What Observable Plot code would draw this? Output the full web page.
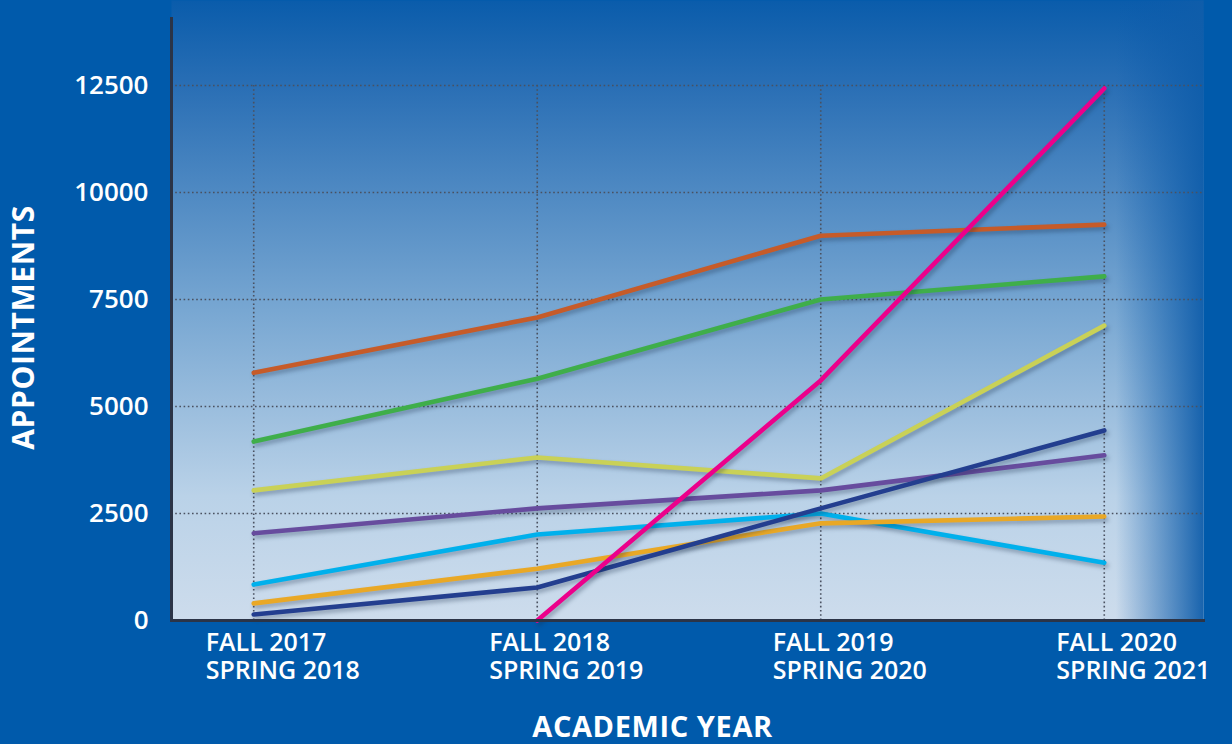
<!DOCTYPE html>
<html>
<head>
<meta charset="utf-8">
<script src="https://cdn.jsdelivr.net/npm/d3@7"></script>
<script src="https://cdn.jsdelivr.net/npm/@observablehq/plot@0.6"></script>
<style>
  html, body { margin: 0; padding: 0; background: #005aab; }
  #chart { width: 1232px; height: 744px; background: #005aab; overflow: hidden; }
  #chart svg { background: transparent; }
  #chart g[aria-label="line"] path { filter: drop-shadow(2px 3px 2px rgba(20,40,70,0.35)); }
  #chart .axis-title text { letter-spacing: 0.6px; }
</style>
</head>
<body>
<div id="chart"></div>
<script>
// ---- data ----
const years = ["FALL 2017\nSPRING 2018", "FALL 2018\nSPRING 2019", "FALL 2019\nSPRING 2020", "FALL 2020\nSPRING 2021"];
const yTicks = [0, 2500, 5000, 7500, 10000, 12500];

const seriesOrange  = [5790, 7080, 8990, 9250];
const seriesGreen   = [4180, 5650, 7500, 8040];
const seriesYellow  = [3040, 3810, 3320, 6890];
const seriesPurple  = [2040, 2620, 3040, 3860];
const seriesCyan    = [840, 2010, 2500, 1350];
const seriesAmber   = [400, 1210, 2270, 2430];
const seriesNavy    = [140, 770, 2620, 4440];
const seriesMagenta = [null, 0, 5610, 12430];

const series = [
  {name: "orange",  color: "#c65b29", values: seriesOrange},
  {name: "green",   color: "#3fae4a", values: seriesGreen},
  {name: "yellow",  color: "#c9d157", values: seriesYellow},
  {name: "purple",  color: "#674c9e", values: seriesPurple},
  {name: "cyan",    color: "#00b0ec", values: seriesCyan},
  {name: "amber",   color: "#e9a826", values: seriesAmber},
  {name: "navy",    color: "#233e8f", values: seriesNavy},
  {name: "magenta", color: "#ec008b", values: seriesMagenta}
];

const rows = series.flatMap(s => s.values.map((v, i) => ({name: s.name, color: s.color, i, v})).filter(d => d.v != null));
const xIdx = years.map((_, i) => i);

function defs() {
  const g = d3.create("svg:defs");
  const bg = g.append("linearGradient").attr("id", "bgGrad").attr("x1", 0).attr("y1", 0).attr("x2", 0).attr("y2", 1);
  [[0, "#0a5cab"], [0.14, "#2a6fb5"], [0.5, "#78a7d2"], [0.8, "#bad2e8"], [1, "#cddcec"]]
    .forEach(([o, c]) => bg.append("stop").attr("offset", o).attr("stop-color", c));
  const fade = g.append("linearGradient").attr("id", "fadeGrad").attr("x1", 0).attr("y1", 0).attr("x2", 1).attr("y2", 0);
  [[0, "#0a5aab", 0], [0.915, "#0a5aab", 0], [1, "#0f5daa", 0.95]]
    .forEach(([o, c, a]) => fade.append("stop").attr("offset", o).attr("stop-color", c).attr("stop-opacity", a));
  return g.node();
}

const chart = Plot.plot({
  width: 1232,
  height: 744,
  marginTop: 0,
  marginLeft: 171,
  marginRight: 29,
  marginBottom: 124,
  style: {fontFamily: "'Open Sans', sans-serif", fontWeight: 600, background: "transparent"},
  x: {type: "linear", domain: [-0.29, 3.35], axis: null},
  y: {domain: [0, 14486], axis: null},
  marks: [
    defs,
    Plot.frame({fill: "url(#bgGrad)", stroke: null}),
    Plot.frame({fill: "url(#fadeGrad)", stroke: null}),
    Plot.gridY(yTicks.slice(1), {stroke: "#4a5160", strokeOpacity: 1, strokeWidth: 1.6, strokeDasharray: "1.6,2.6"}),
    Plot.ruleX(xIdx, {y1: 0, y2: d3.max(yTicks), stroke: "#4a5160", strokeWidth: 1.6, strokeDasharray: "1.6,2.6"}),
    Plot.line(rows, {x: "i", y: "v", z: "name", stroke: "color", strokeWidth: 4.6, strokeLinejoin: "round"}),
    Plot.frame({anchor: "left", insetTop: 18, stroke: "#2b3447", strokeWidth: 3}),
    Plot.frame({anchor: "bottom", stroke: "#2b3447", strokeWidth: 3}),
    Plot.text(yTicks, {x: -0.29, y: d => d, text: d => String(d), textAnchor: "end", dx: -23, fill: "white", fontSize: 26, fontWeight: 600}),
    Plot.text(years, {x: (d, i) => i, y: 0, text: d => d, textAnchor: "start", lineAnchor: "top", dx: -48, dy: 11, fill: "white", fontSize: 25, fontWeight: 600, lineHeight: 1.1}),
    Plot.text(["ACADEMIC YEAR"], {className: "axis-title", frameAnchor: "bottom", textAnchor: "middle", dx: -35, dy: 116, lineAnchor: "bottom", text: d => d, fill: "white", fontSize: 29, fontWeight: 700}),
    Plot.text(["APPOINTMENTS"], {className: "axis-title", frameAnchor: "left", textAnchor: "middle", dx: -147, dy: 17, rotate: -90, lineAnchor: "middle", text: d => d, fill: "white", fontSize: 30, fontWeight: 700})
  ]
});
document.getElementById("chart").appendChild(chart);
</script>
</body>
</html>
